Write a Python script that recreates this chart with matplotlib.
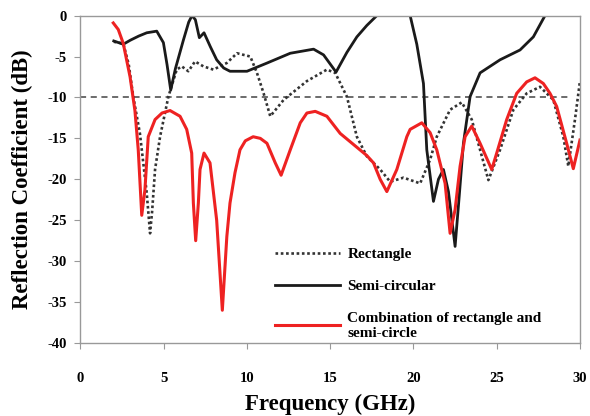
import numpy as np
import matplotlib
matplotlib.use("Agg")
import matplotlib.pyplot as plt

plt.rcParams['font.family'] = ['Liberation Serif', 'DejaVu Serif']
plt.rcParams['font.weight'] = 'bold'
plt.rcParams['axes.unicode_minus'] = False

# rectangle patch (dotted)
rect_f = [2.0, 2.57, 2.9, 3.17, 3.57, 3.98, 4.18, 4.3, 4.48, 4.78, 5.28, 5.78, 6.08,
          6.48, 6.88, 7.38, 7.98, 8.78, 9.4, 10.2, 10.6, 11.0, 11.4, 12.2, 13.6, 14.8,
          15.3, 16.0, 16.6, 17.2, 18.0, 18.6, 19.4, 20.4, 21.0, 21.4, 22.2, 22.9, 23.5,
          24.0, 24.5, 25.2, 26.0, 26.8, 27.6, 28.4, 29.0, 29.3, 29.7, 30.0]
rect_db = [-3.2, -3.4, -6.0, -9.9, -14.4, -21.7, -26.6, -24.0, -18.8, -14.8, -9.9, -6.6, -6.2,
           -6.8, -5.6, -6.2, -6.6, -5.8, -4.6, -5.0, -7.0, -9.5, -12.3, -10.3, -8.0, -6.6,
           -7.0, -9.9, -14.8, -17.2, -18.8, -20.3, -19.8, -20.5, -17.6, -14.8, -11.5, -10.6, -12.7,
           -16.4, -20.1, -16.4, -11.5, -9.5, -8.7, -10.3, -14.8, -18.4, -12.7, -8.0]

# semi-circular patch (solid black)
semi_f = [2.0, 2.57, 3.0, 3.5, 3.98, 4.58, 4.98, 5.2, 5.42, 5.7, 6.18, 6.5, 6.7, 6.9,
          7.14, 7.42, 7.8, 8.18, 8.6, 8.98, 10.0, 11.2, 12.6, 14.0, 14.6, 15.35, 16.0,
          16.6, 17.2, 17.8, 19.8, 20.2, 20.6, 20.8, 21.2, 21.5, 21.8, 22.1, 22.5, 22.75,
          23.0, 23.4, 24.0, 25.2, 26.4, 27.2, 27.9, 30.0]
semi_db = [-3.1, -3.5, -3.0, -2.5, -2.1, -1.9, -3.3, -6.0, -9.1, -6.5, -3.0, -0.8, 0.0, -0.5,
           -2.7, -2.1, -3.8, -5.4, -6.4, -6.8, -6.8, -5.8, -4.6, -4.1, -4.8, -6.9, -4.5,
           -2.6, -1.2, 0.0, 0.0, -3.5, -8.3, -16.4, -22.7, -20.0, -18.8, -21.5, -28.2, -22.0,
           -15.6, -9.9, -7.0, -5.4, -4.2, -2.6, 0.0, 0.0]

# combination (red)
comb_f = [1.97, 2.27, 2.57, 2.98, 3.27, 3.47, 3.68, 3.87, 4.07, 4.48, 4.9, 5.38, 5.98, 6.38,
          6.68, 6.78, 6.92, 7.08, 7.18, 7.42, 7.78, 8.18, 8.52, 8.79, 8.98, 9.28, 9.58,
          9.9, 10.37, 10.8, 11.2, 11.7, 12.05, 12.6, 13.2, 13.6, 14.1, 14.8, 15.6, 17.2, 17.6, 18.0,
          18.4, 19.0, 19.6, 19.8, 20.5, 21.0, 21.4, 21.9, 22.2, 22.5, 22.8, 23.1, 23.5,
          24.0, 24.7, 25.0, 25.6, 26.2, 26.8, 27.3, 27.8, 28.2, 28.6, 29.2, 29.6, 30.0]
comb_db = [-0.9, -1.7, -3.4, -7.5, -11.6, -16.4, -24.4, -21.3, -14.8, -12.7, -11.9, -11.6, -12.3, -13.9,
           -16.8, -22.9, -27.5, -22.9, -18.8, -16.8, -18.0, -25.0, -36.0, -27.0, -22.9, -19.2, -16.4,
           -15.3, -14.8, -15.0, -15.6, -18.0, -19.5, -16.4, -13.1, -11.9, -11.7, -12.3, -14.4, -17.1, -18.0, -20.0,
           -21.5, -18.8, -14.8, -13.9, -13.1, -14.3, -16.4, -20.5, -26.6, -23.7, -18.4, -14.8, -13.5,
           -15.6, -18.8, -16.8, -12.7, -9.5, -8.1, -7.6, -8.3, -9.5, -11.1, -15.6, -18.7, -15.2]

threshold = -10

fig = plt.figure(figsize=(5.9, 4.16), dpi=100)
ax = fig.add_axes([0.1364, 0.1755, 0.8466, 0.787])

ax.axhline(threshold, color='#444444', linestyle=(0, (4, 3)), linewidth=1.1, xmax=0.977)
ax.plot(rect_f, rect_db, color='#333333', linestyle=(0, (1, 1)), linewidth=1.9, label='Rectangle')
ax.plot(semi_f, semi_db, color='#1a1a1a', linewidth=2.0, label='Semi-circular')
ax.plot(comb_f, comb_db, color='#ee2222', linewidth=2.2,
        label='Combination of rectangle and\nsemi-circle')

ax.set_xlim(0, 30)
ax.set_ylim(-40, 0)
ax.set_xticks(np.arange(0, 31, 5))
ax.set_yticks(np.arange(-40, 1, 5))

for s in ax.spines.values():
    s.set_color('#999999')
    s.set_linewidth(1.0)
ax.tick_params(axis='x', colors='#999999', length=4, pad=17, labelsize=10.5, labelcolor='black')
ax.tick_params(axis='y', colors='#999999', length=4, pad=6, labelsize=10.5, labelcolor='black')
for lab in ax.get_xticklabels() + ax.get_yticklabels():
    lab.set_fontweight('bold')

ax.set_xlabel('Frequency (GHz)', fontsize=16.5, fontweight='bold', labelpad=6)
ax.set_ylabel('Reflection Coefficient (dB)', fontsize=16.5, fontweight='bold', labelpad=10)

leg = ax.legend(loc='upper left', bbox_to_anchor=(0.389, 0.291), frameon=False,
                fontsize=11, handlelength=4.3, handletextpad=0.45, labelspacing=1.2,
                borderpad=0, borderaxespad=0)
for t in leg.get_texts():
    t.set_fontweight('bold')

fig.savefig('out.png', dpi=100)
